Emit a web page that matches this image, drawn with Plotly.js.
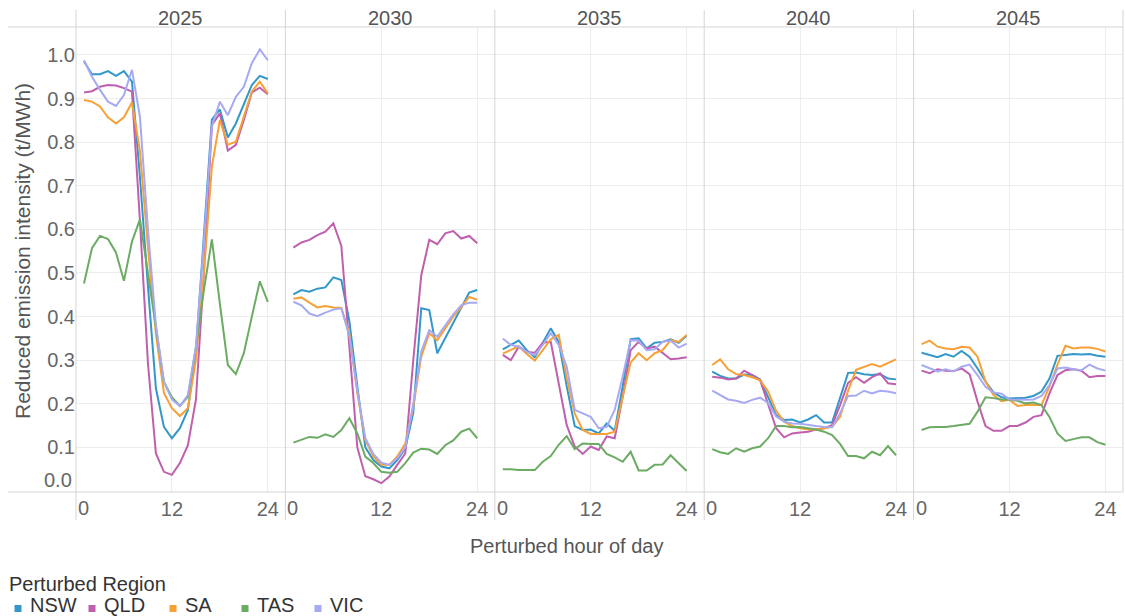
<!DOCTYPE html>
<html>
<head>
<meta charset="utf-8">
<script src="https://cdn.plot.ly/plotly-3.0.1.min.js"></script>
<style>
  html, body { margin: 0; padding: 0; background: #ffffff; }
  #chart { width: 1125px; height: 616px; }
</style>
</head>
<body>
<div id="chart"></div>
<script>
// Scenario years shown as facets, and the perturbed hour on each x axis
const YEARS = ['2025', '2030', '2035', '2040', '2045'];
const HOURS = [1, 2, 3, 4, 5, 6, 7, 8, 9, 10, 11, 12, 13, 14, 15, 16, 17, 18, 19, 20, 21, 22, 23, 24];
const X_TICKS = [12, 24];
const Y_TICKS = [0.1, 0.2, 0.3, 0.4, 0.5, 0.6, 0.7, 0.8, 0.9, 1.0];
const Y_TICK_TEXT = ['0.1', '0.2', '0.3', '0.4', '0.5', '0.6', '0.7', '0.8', '0.9', '1.0'];
const REGIONS = ['NSW', 'QLD', 'SA', 'TAS', 'VIC'];
const REGION_COLORS = ['#3398c9', '#bf5fae', '#f7a036', '#6cab63', '#a7a9f2'];

// Reduced emission intensity (t/MWh) by perturbed hour, one array per region and year
const NSW_2025 = [0.985, 0.956, 0.956, 0.963, 0.952, 0.963, 0.939, 0.72, 0.47, 0.235, 0.147, 0.121, 0.144, 0.186, 0.32, 0.58, 0.852, 0.875, 0.811, 0.843, 0.885, 0.931, 0.952, 0.945];
const QLD_2025 = [0.914, 0.917, 0.927, 0.931, 0.930, 0.924, 0.916, 0.62, 0.293, 0.086, 0.044, 0.037, 0.064, 0.105, 0.209, 0.5, 0.839, 0.866, 0.781, 0.794, 0.851, 0.914, 0.925, 0.910];
const SA_2025  = [0.897, 0.893, 0.882, 0.857, 0.843, 0.857, 0.891, 0.78, 0.56, 0.36, 0.225, 0.19, 0.172, 0.19, 0.3, 0.5, 0.744, 0.851, 0.794, 0.801, 0.859, 0.916, 0.939, 0.912];
const TAS_2025 = [0.476, 0.557, 0.585, 0.578, 0.547, 0.482, 0.572, 0.623, 0.5, 0.37, 0.25, 0.215, 0.195, 0.216, 0.33, 0.46, 0.577, 0.43, 0.289, 0.268, 0.316, 0.4, 0.481, 0.434];
const VIC_2025 = [0.988, 0.95, 0.92, 0.893, 0.883, 0.908, 0.966, 0.858, 0.6, 0.38, 0.25, 0.21, 0.195, 0.22, 0.33, 0.57, 0.836, 0.893, 0.862, 0.904, 0.927, 0.981, 1.013, 0.988];

const NSW_2030 = [0.451, 0.461, 0.457, 0.464, 0.467, 0.490, 0.484, 0.39, 0.24, 0.10, 0.071, 0.056, 0.052, 0.071, 0.097, 0.18, 0.419, 0.415, 0.316, 0.35, 0.384, 0.419, 0.455, 0.461];
const QLD_2030 = [0.558, 0.57, 0.576, 0.587, 0.595, 0.614, 0.562, 0.33, 0.10, 0.034, 0.027, 0.018, 0.033, 0.06, 0.086, 0.3, 0.495, 0.576, 0.566, 0.591, 0.596, 0.579, 0.585, 0.568];
const SA_2030  = [0.441, 0.444, 0.432, 0.421, 0.424, 0.421, 0.420, 0.362, 0.224, 0.117, 0.079, 0.06, 0.06, 0.079, 0.109, 0.193, 0.308, 0.362, 0.346, 0.373, 0.4, 0.422, 0.445, 0.439];
const TAS_2030 = [0.111, 0.118, 0.124, 0.122, 0.130, 0.124, 0.140, 0.167, 0.132, 0.079, 0.064, 0.044, 0.042, 0.044, 0.064, 0.088, 0.097, 0.095, 0.085, 0.105, 0.116, 0.136, 0.143, 0.121];
const VIC_2030 = [0.434, 0.426, 0.407, 0.401, 0.409, 0.416, 0.419, 0.355, 0.23, 0.121, 0.085, 0.065, 0.06, 0.075, 0.10, 0.2, 0.32, 0.369, 0.354, 0.38, 0.405, 0.426, 0.432, 0.432];

const NSW_2035 = [0.325, 0.335, 0.345, 0.323, 0.307, 0.340, 0.373, 0.342, 0.24, 0.149, 0.140, 0.141, 0.132, 0.155, 0.138, 0.24, 0.348, 0.350, 0.327, 0.340, 0.342, 0.348, 0.340, 0.356];
const QLD_2035 = [0.312, 0.300, 0.331, 0.319, 0.317, 0.340, 0.342, 0.25, 0.151, 0.102, 0.085, 0.102, 0.094, 0.125, 0.121, 0.216, 0.323, 0.342, 0.327, 0.331, 0.316, 0.302, 0.304, 0.307];
const SA_2035  = [0.315, 0.323, 0.332, 0.314, 0.299, 0.323, 0.348, 0.358, 0.26, 0.178, 0.140, 0.131, 0.131, 0.131, 0.136, 0.216, 0.295, 0.316, 0.300, 0.316, 0.323, 0.346, 0.342, 0.358];
const TAS_2035 = [0.050, 0.050, 0.048, 0.048, 0.048, 0.067, 0.080, 0.106, 0.126, 0.096, 0.109, 0.108, 0.108, 0.085, 0.077, 0.067, 0.090, 0.047, 0.047, 0.060, 0.061, 0.082, 0.063, 0.046];
const VIC_2035 = [0.350, 0.335, 0.331, 0.319, 0.312, 0.335, 0.362, 0.335, 0.285, 0.186, 0.178, 0.170, 0.144, 0.147, 0.186, 0.262, 0.346, 0.345, 0.323, 0.325, 0.342, 0.345, 0.329, 0.338];

const NSW_2040 = [0.274, 0.264, 0.258, 0.258, 0.267, 0.266, 0.256, 0.216, 0.174, 0.163, 0.164, 0.157, 0.164, 0.174, 0.157, 0.157, 0.212, 0.271, 0.272, 0.268, 0.266, 0.268, 0.258, 0.256];
const QLD_2040 = [0.262, 0.260, 0.256, 0.258, 0.276, 0.266, 0.254, 0.201, 0.144, 0.123, 0.132, 0.134, 0.136, 0.141, 0.144, 0.151, 0.197, 0.248, 0.261, 0.248, 0.261, 0.270, 0.247, 0.245];
const SA_2040  = [0.289, 0.302, 0.279, 0.268, 0.266, 0.261, 0.254, 0.228, 0.184, 0.159, 0.149, 0.144, 0.141, 0.141, 0.144, 0.147, 0.170, 0.230, 0.278, 0.285, 0.291, 0.285, 0.293, 0.302];
const TAS_2040 = [0.096, 0.089, 0.085, 0.098, 0.090, 0.098, 0.102, 0.121, 0.149, 0.149, 0.146, 0.147, 0.144, 0.141, 0.136, 0.128, 0.108, 0.080, 0.080, 0.075, 0.090, 0.082, 0.103, 0.082];
const VIC_2040 = [0.230, 0.220, 0.210, 0.207, 0.202, 0.209, 0.214, 0.202, 0.171, 0.159, 0.155, 0.154, 0.151, 0.149, 0.147, 0.146, 0.178, 0.218, 0.219, 0.230, 0.224, 0.230, 0.228, 0.224];

const NSW_2045 = [0.317, 0.312, 0.307, 0.314, 0.308, 0.321, 0.308, 0.281, 0.251, 0.226, 0.215, 0.212, 0.213, 0.214, 0.218, 0.228, 0.258, 0.310, 0.312, 0.314, 0.313, 0.314, 0.310, 0.308];
const QLD_2045 = [0.276, 0.270, 0.279, 0.276, 0.275, 0.281, 0.268, 0.205, 0.149, 0.138, 0.138, 0.149, 0.149, 0.157, 0.170, 0.174, 0.224, 0.266, 0.277, 0.279, 0.276, 0.261, 0.264, 0.264];
const SA_2045  = [0.337, 0.345, 0.331, 0.327, 0.325, 0.331, 0.329, 0.308, 0.251, 0.220, 0.206, 0.209, 0.195, 0.197, 0.197, 0.197, 0.24, 0.29, 0.333, 0.327, 0.329, 0.329, 0.326, 0.320];
const TAS_2045 = [0.140, 0.146, 0.147, 0.147, 0.149, 0.151, 0.154, 0.182, 0.215, 0.213, 0.210, 0.209, 0.207, 0.201, 0.203, 0.197, 0.170, 0.132, 0.115, 0.119, 0.123, 0.123, 0.112, 0.106];
const VIC_2045 = [0.289, 0.281, 0.274, 0.279, 0.274, 0.285, 0.290, 0.266, 0.239, 0.226, 0.223, 0.210, 0.209, 0.209, 0.210, 0.218, 0.243, 0.281, 0.283, 0.279, 0.277, 0.290, 0.281, 0.276];

// Series per region, ordered like YEARS
const SERIES = {
  NSW: [NSW_2025, NSW_2030, NSW_2035, NSW_2040, NSW_2045],
  QLD: [QLD_2025, QLD_2030, QLD_2035, QLD_2040, QLD_2045],
  SA:  [SA_2025,  SA_2030,  SA_2035,  SA_2040,  SA_2045],
  TAS: [TAS_2025, TAS_2030, TAS_2035, TAS_2040, TAS_2045],
  VIC: [VIC_2025, VIC_2030, VIC_2035, VIC_2040, VIC_2045]
};

// Page geometry (pixels)
const WIDTH = 1125, HEIGHT = 616;
const M = { l: 76, r: 2, t: 27, b: 124 };
const PW = WIDTH - M.l - M.r;
const PH = HEIGHT - M.t - M.b;
const PLOT_BOTTOM = HEIGHT - M.b;
const px = x => (x - M.l) / PW;          // page x -> paper x
const py = y => (PLOT_BOTTOM - y) / PH;  // page y -> paper y

const FONT = 'Arial, "Liberation Sans", sans-serif';
const TICK_SIZE = 20;
const TICK_COLOR = '#666666';
const TITLE_COLOR = '#555555';
const KEY_COLOR = '#333333';
const DIVIDER = '#d5d5d5';
const GRID = '#ededed';

const axisName = i => (i === 0 ? 'x' : 'x' + (i + 1));
const layoutKey = i => (i === 0 ? 'xaxis' : 'xaxis' + (i + 1));

const traces = [];
YEARS.forEach((year, i) => {
  REGIONS.forEach((region, r) => {
    traces.push({
      type: 'scatter',
      mode: 'lines',
      name: region,
      legendgroup: region,
      showlegend: false,
      x: HOURS,
      y: SERIES[region][i],
      xaxis: axisName(i),
      yaxis: 'y',
      line: { color: REGION_COLORS[r], width: 2 },
      hoverinfo: 'x+y+name'
    });
  });
});

const layout = {
  width: WIDTH,
  height: HEIGHT,
  margin: M,
  paper_bgcolor: '#ffffff',
  plot_bgcolor: '#ffffff',
  font: { family: FONT, size: TICK_SIZE, color: TICK_COLOR },
  showlegend: false,
  yaxis: {
    anchor: 'x',
    range: [-0.0023, 1.0642],
    tickvals: Y_TICKS,
    ticktext: Y_TICK_TEXT,
    showgrid: true,
    gridcolor: GRID,
    gridwidth: 1,
    zeroline: false,
    showline: false,
    ticks: '',
    tickfont: { family: FONT, size: TICK_SIZE, color: TICK_COLOR },
    fixedrange: true
  },
  shapes: [],
  annotations: []
};

YEARS.forEach((year, i) => {
  layout[layoutKey(i)] = {
    domain: [i / YEARS.length, (i + 1) / YEARS.length],
    anchor: 'y',
    range: [0, 26.2],
    tickvals: X_TICKS,
    ticktext: X_TICKS.map(String),
    showgrid: true,
    gridcolor: GRID,
    gridwidth: 1,
    zeroline: false,
    showline: false,
    ticks: '',
    ticklabelstandoff: 3,
    tickfont: { family: FONT, size: TICK_SIZE, color: TICK_COLOR },
    fixedrange: true
  };

  // facet header
  layout.annotations.push({
    xref: 'paper', yref: 'paper',
    x: (i + 0.5) / YEARS.length, y: py(18),
    xanchor: 'center', yanchor: 'middle',
    text: year, showarrow: false,
    font: { family: FONT, size: TICK_SIZE, color: TITLE_COLOR }
  });

  // hour 0 label, nudged inside its facet
  layout.annotations.push({
    xref: axisName(i), yref: 'paper',
    x: 0, y: py(508),
    xanchor: 'left', yanchor: 'middle',
    text: '0', showarrow: false,
    font: { family: FONT, size: TICK_SIZE, color: TICK_COLOR }
  });
});

// facet dividers, including the left and right edges
for (let i = 0; i <= YEARS.length; i++) {
  layout.shapes.push({
    type: 'line', xref: 'paper', yref: 'paper',
    x0: i / YEARS.length, x1: i / YEARS.length,
    y0: py(i === YEARS.length ? 492 : 520), y1: py(10),
    line: { color: DIVIDER, width: 1 }
  });
}
// header rule and x axis baseline
[27, 492].forEach(y => {
  layout.shapes.push({
    type: 'line', xref: 'paper', yref: 'paper',
    x0: px(8), x1: 1, y0: py(y), y1: py(y),
    line: { color: DIVIDER, width: 1 }
  });
});

// 0.0 tick label sits just above the baseline
layout.annotations.push({
  xref: 'paper', yref: 'paper',
  x: 0, y: py(480), xshift: -2,
  xanchor: 'right', yanchor: 'middle',
  text: '0.0', showarrow: false,
  font: { family: FONT, size: TICK_SIZE, color: TICK_COLOR }
});

// axis titles
layout.annotations.push({
  xref: 'paper', yref: 'paper',
  x: px(22), y: py(251),
  xanchor: 'center', yanchor: 'middle', textangle: -90,
  text: 'Reduced emission intensity (t/MWh)', showarrow: false,
  font: { family: FONT, size: 21, color: TITLE_COLOR }
});
layout.annotations.push({
  xref: 'paper', yref: 'paper',
  x: px(566), y: py(546),
  xanchor: 'center', yanchor: 'middle',
  text: 'Perturbed hour of day', showarrow: false,
  font: { family: FONT, size: 20, color: TITLE_COLOR }
});

// colour key
layout.annotations.push({
  xref: 'paper', yref: 'paper',
  x: px(7), y: py(584),
  xanchor: 'left', yanchor: 'middle',
  text: 'Perturbed Region', showarrow: false,
  font: { family: FONT, size: 20, color: KEY_COLOR }
});
const KEY_X = [18, 92, 173, 245, 318];
REGIONS.forEach((region, r) => {
  const cx = KEY_X[r];
  layout.shapes.push({
    type: 'rect', xref: 'paper', yref: 'paper',
    x0: px(cx - 3.5), x1: px(cx + 3.5), y0: py(612), y1: py(605),
    fillcolor: REGION_COLORS[r], line: { width: 0 }
  });
  layout.annotations.push({
    xref: 'paper', yref: 'paper',
    x: px(cx + 10), y: py(605),
    xanchor: 'left', yanchor: 'middle',
    text: region, showarrow: false,
    font: { family: FONT, size: 20, color: KEY_COLOR }
  });
});

Plotly.newPlot('chart', traces, layout, { displayModeBar: false, responsive: false });
</script>
</body>
</html>
